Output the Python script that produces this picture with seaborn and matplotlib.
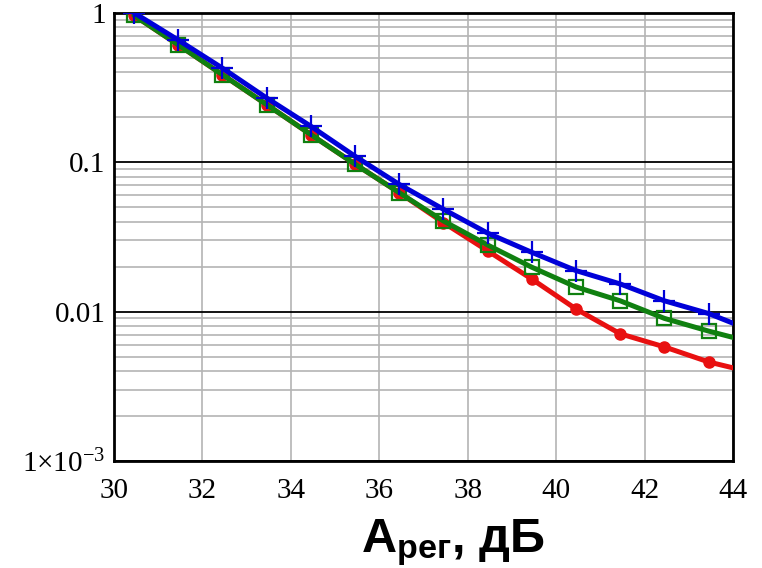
import numpy as np
import pandas as pd
import matplotlib
matplotlib.use("Agg")
import matplotlib.pyplot as plt
import seaborn as sns
from matplotlib.ticker import FixedLocator, FixedFormatter, LogLocator, NullFormatter

# ---- data ----
a_reg = [30.45, 31.45, 32.45, 33.45, 34.45, 35.45, 36.45, 37.45, 38.45,
         39.45, 40.45, 41.45, 42.45, 43.45, 44.45]
p_blue = [1.0, 0.657, 0.426, 0.269, 0.174, 0.1096, 0.071, 0.0484, 0.0335,
          0.0249, 0.0188, 0.0153, 0.0118, 0.0097, 0.0074]
p_green = [0.96, 0.61, 0.385, 0.243, 0.153, 0.097, 0.0625, 0.0404, 0.0279,
           0.0198, 0.0146, 0.0118, 0.0090, 0.0074, 0.0062]
p_red = [0.96, 0.61, 0.385, 0.243, 0.153, 0.097, 0.0625, 0.0394, 0.0255,
         0.0165, 0.0104, 0.0071, 0.0058, 0.0046, 0.0039]

x_ticks = [30, 32, 34, 36, 38, 40, 42, 44]
x_ticklabels = ["30", "32", "34", "36", "38", "40", "42", "44"]
y_ticks = [1e-3, 1e-2, 1e-1, 1]
y_ticklabels = ["1×10$^{-3}$", "0.01", "0.1", "1"]
x_label = r"$\mathbf{A}_{\mathbf{рег}}$, дБ"

sns.set_style("white")
plt.rcParams["mathtext.fontset"] = "custom"
plt.rcParams["mathtext.rm"] = "Liberation Serif"
plt.rcParams["mathtext.it"] = "Liberation Serif:italic"
plt.rcParams["mathtext.bf"] = "Liberation Sans:bold"
plt.rcParams["mathtext.sf"] = "Liberation Sans"

fig = plt.figure(figsize=(7.62, 5.68), dpi=100)
ax = fig.add_axes([114 / 762, 1 - 461 / 568, (733 - 114) / 762, (461 - 12.7) / 568])

df = pd.DataFrame({"x": a_reg, "blue": p_blue, "green": p_green, "red": p_red})

sns.lineplot(data=df, x="x", y="red", ax=ax, color="#e81010", lw=3.6,
             marker="o", markersize=8, markeredgewidth=1, markeredgecolor="#e81010",
             zorder=3)
sns.lineplot(data=df, x="x", y="green", ax=ax, color="#108010", lw=3.6,
             marker="s", markersize=10, markerfacecolor="none",
             markeredgewidth=1.6, markeredgecolor="#108010", zorder=4)
sns.lineplot(data=df, x="x", y="blue", ax=ax, color="#0000d8", lw=3.6,
             marker="+", markersize=16, markeredgewidth=1.6,
             markeredgecolor="#0000d8", zorder=5)

ax.set_yscale("log")
ax.set_xlim(30, 44)
ax.set_ylim(1e-3, 1)

# grids
ax.xaxis.set_major_locator(FixedLocator(x_ticks))
ax.xaxis.set_major_formatter(FixedFormatter(x_ticklabels))
ax.yaxis.set_major_locator(FixedLocator(y_ticks))
ax.yaxis.set_major_formatter(FixedFormatter(y_ticklabels))
ax.yaxis.set_minor_locator(LogLocator(base=10, subs=np.arange(2, 10)))
ax.yaxis.set_minor_formatter(NullFormatter())
ax.grid(True, axis="x", which="major", color="#b4b4b4", lw=1.2)
ax.grid(True, axis="y", which="major", color="black", lw=1.3)
ax.grid(True, axis="y", which="minor", color="#b4b4b4", lw=1.2)
ax.set_axisbelow(True)

for s in ax.spines.values():
    s.set_visible(True)
    s.set_color("black")
    s.set_linewidth(2)

ax.tick_params(axis="both", which="both", length=0)
ax.tick_params(axis="x", pad=12, labelsize=21, labelcolor="black")
ax.tick_params(axis="y", pad=6, labelsize=21, labelcolor="black")
for lab in ax.get_xticklabels() + ax.get_yticklabels():
    lab.set_family("Liberation Serif")

ax.set_ylabel("")
ax.set_xlabel(x_label, fontsize=35, fontweight="bold", family="Liberation Sans",
              color="black")
ax.xaxis.set_label_coords(0.548, -0.125)

fig.savefig("out.png", dpi=100)
